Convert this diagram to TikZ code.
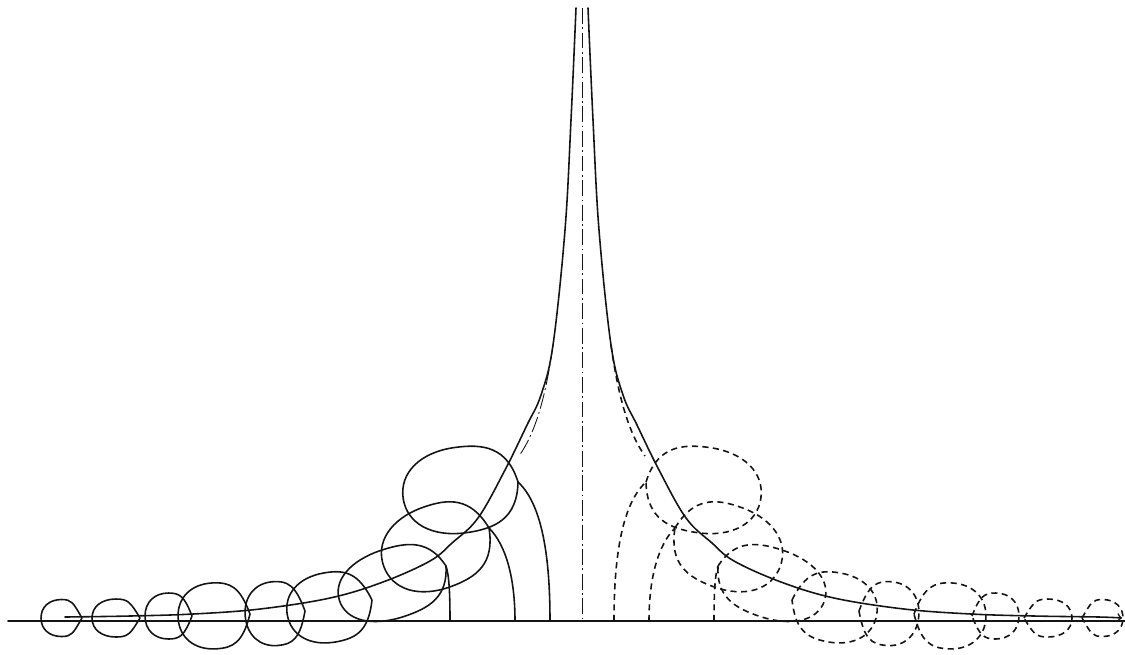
\documentclass[tikz,border=0pt]{standalone}
\usepackage{tikz}
\definecolor{inchiostro}{HTML}{141414}
\tikzset{
  traccia/.style={inchiostro, line width=0.9pt, line cap=round},
  tratteggio/.style={inchiostro, line width=0.9pt, dash pattern=on 3.5pt off 2.5pt},
  catena/.style={inchiostro, line width=0.5pt, dash pattern=on 9pt off 2pt on 1pt off 2pt},
}
% meta figura: #1 stile anelli e archi, #2 stile ramo secondario
\newcommand{\metafig}[2]{%
  % Archi dall'asse
  \draw[#1] (550,621) .. controls (550,560) and (543,505) .. (518,482);
  \draw[#1] (515,621) .. controls (515,578) and (506,545) .. (489,528);
  \draw[#1] (450,621) .. controls (450,592) and (449,575) .. (446,566);
  % Ramo secondario
  \draw[#2] (553,345) .. controls (546,395) and (536,432) .. (519,456);
  % Anelli (punta, larghezza, altezza, inclinazione, apertura)
  \foreach \px/\py/\lw/\lh/\al/\pu in {82/618/41/37/0/0.22, 140/618/48/38/0/0.2,
      192/616/47/46/0/0.16, 250/614/72/66/3/0.12, 305/611/60/64/5/0.12,
      372/600/86/70/10/0.1, 446/566/112/70/18/0.07, 489/528/112/84/20/0.06,
      518/482/116/86/8/0.05}
    \draw[#1, shift={(\px,\py)}, rotate=\al]
      (0,0) .. controls (-\pu*\lw,-0.42*\lh) and (-0.25*\lw,-0.5*\lh) .. (-0.5*\lw,-0.5*\lh)
      .. controls (-0.8*\lw,-0.5*\lh) and (-\lw,-0.3*\lh) .. (-\lw,0)
      .. controls (-\lw,0.3*\lh) and (-0.8*\lw,0.5*\lh) .. (-0.5*\lw,0.5*\lh)
      .. controls (-0.25*\lw,0.5*\lh) and (-\pu*\lw,0.42*\lh) .. (0,0);
}
\newcommand{\guida}{(576,8) (571,120) (565,230) (553,345) (541,395)
  (527,425) (505,470) (478,518) (452,543) (430,561) (383,582) (330,598)
  (260,609) (193,614) (130,616) (65,617)}

\begin{document}
\begin{tikzpicture}[x=0.02cm, y=-0.02cm]
  \useasboundingbox (0,0) rectangle (1125,654);
  % Asse e retta centrale
  \draw[traccia] (8,621) -- (1125,621);
  \draw[catena] (582,8) -- (582,621);
  % Lato sinistro
  \draw[traccia] plot[smooth, tension=0.6] coordinates {\guida};
  \metafig{traccia}{catena}
  % Lato destro (specchiato)
  \begin{scope}[shift={(1164,0)}, xscale=-1]
    \draw[traccia, ->] plot[smooth, tension=0.6] coordinates {\guida (42,618)};
    \metafig{tratteggio}{tratteggio}
  \end{scope}
\end{tikzpicture}
\end{document}
